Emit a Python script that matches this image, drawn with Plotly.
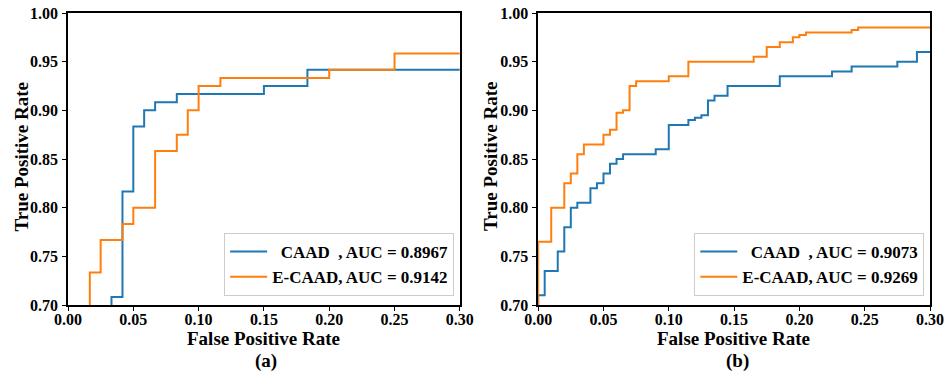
import plotly.graph_objects as go
from plotly.subplots import make_subplots

# ---- data ----
# (a) left panel
a_caad_fpr = [0.0333, 0.0333, 0.0417, 0.05, 0.0583, 0.0667, 0.0833, 0.15, 0.1833, 0.30]
a_caad_tpr = [0.65, 0.7083, 0.8167, 0.8833, 0.90, 0.9083, 0.9167, 0.925, 0.9417, 0.9417]
a_ecaad_fpr = [0.0167, 0.0167, 0.025, 0.0417, 0.05, 0.0667, 0.0833, 0.0917, 0.10, 0.1167, 0.20, 0.25, 0.30]
a_ecaad_tpr = [0.65, 0.7333, 0.7667, 0.7833, 0.80, 0.8583, 0.875, 0.90, 0.925, 0.9333, 0.9417, 0.9583, 0.9583]
# (b) right panel
b_caad_fpr = [0, 0, 0.005, 0.015, 0.02, 0.025, 0.03, 0.04, 0.045, 0.05, 0.055, 0.06, 0.065, 0.09, 0.10,
              0.115, 0.12, 0.125, 0.13, 0.135, 0.145, 0.185, 0.225, 0.24, 0.275, 0.29, 0.30]
b_caad_tpr = [0.65, 0.71, 0.735, 0.755, 0.78, 0.80, 0.805, 0.82, 0.825, 0.835, 0.845, 0.85, 0.855, 0.86, 0.885,
              0.89, 0.8925, 0.895, 0.91, 0.915, 0.925, 0.935, 0.94, 0.945, 0.95, 0.96, 0.96]
b_ecaad_fpr = [0, 0, 0.01, 0.02, 0.025, 0.03, 0.035, 0.05, 0.055, 0.06, 0.065, 0.07, 0.075, 0.10, 0.115,
               0.165, 0.175, 0.185, 0.195, 0.20, 0.205, 0.24, 0.245, 0.30]
b_ecaad_tpr = [0.65, 0.765, 0.80, 0.825, 0.835, 0.855, 0.865, 0.875, 0.88, 0.8975, 0.90, 0.925, 0.93, 0.935, 0.95,
               0.955, 0.965, 0.97, 0.975, 0.9775, 0.98, 0.9825, 0.985, 0.985]

labels_a = ["\u00a0\u00a0CAAD\u00a0\u00a0, AUC = 0.8967", "E-CAAD, AUC = 0.9142"]
labels_b = ["\u00a0\u00a0CAAD\u00a0\u00a0, AUC = 0.9073", "E-CAAD, AUC = 0.9269"]
x_ticks = [0.00, 0.05, 0.10, 0.15, 0.20, 0.25, 0.30]
y_ticks = [0.70, 0.75, 0.80, 0.85, 0.90, 0.95, 1.00]
captions = ["(a)", "(b)"]

BLUE = "#1f77b4"
ORANGE = "#ff7f0e"
SERIF = "Liberation Serif"

W, H = 945, 371
ML, MR, MT, MB = 68.3, 15, 12.7, 66
PW = W - ML - MR
PH = H - MT - MB

fig = make_subplots(rows=1, cols=2, horizontal_spacing=(538.3 - 460) / PW)

fig.add_trace(go.Scatter(x=a_caad_fpr, y=a_caad_tpr, mode="lines", line=dict(color=BLUE, width=2, shape="hv"),
                         name=labels_a[0], legend="legend"), row=1, col=1)
fig.add_trace(go.Scatter(x=a_ecaad_fpr, y=a_ecaad_tpr, mode="lines", line=dict(color=ORANGE, width=2, shape="hv"),
                         name=labels_a[1], legend="legend"), row=1, col=1)
fig.add_trace(go.Scatter(x=b_caad_fpr, y=b_caad_tpr, mode="lines", line=dict(color=BLUE, width=2, shape="hv"),
                         name=labels_b[0], legend="legend2"), row=1, col=2)
fig.add_trace(go.Scatter(x=b_ecaad_fpr, y=b_ecaad_tpr, mode="lines", line=dict(color=ORANGE, width=2, shape="hv"),
                         name=labels_b[1], legend="legend2"), row=1, col=2)

tickfont = dict(family=SERIF, size=16, color="black", weight="bold")
axis_common = dict(showline=True, linecolor="black", linewidth=1.5, mirror=True, showgrid=False,
                   zeroline=False, ticks="outside", ticklen=4, tickwidth=1, tickcolor="black",
                   tickfont=tickfont, tickformat=".2f")
for c in (1, 2):
    fig.update_xaxes(range=[0, 0.30], tickvals=x_ticks, ticklabelstandoff=-5, row=1, col=c, **axis_common)
    fig.update_yaxes(range=[0.70, 1.00], tickvals=y_ticks, ticklabelstandoff=1, row=1, col=c, **axis_common)


def px_x(v):
    return (v - ML) / PW


def px_y(v):
    return (H - MB - v) / PH


legend_common = dict(font=dict(family=SERIF, size=17, color="black", weight="bold"),
                     bgcolor="white", bordercolor="#cccccc", borderwidth=1,
                     xref="paper", yref="paper", xanchor="right", yanchor="bottom",
                     tracegroupgap=0, itemwidth=37)
fig.update_layout(
    legend=dict(x=px_x(454.3), y=px_y(296), **legend_common),
    legend2=dict(x=px_x(924.3), y=px_y(296), **legend_common),
)

title_font = dict(family=SERIF, size=19, color="black", weight="bold")
annots = []
for xc, yt in ((21.7, "True Positive Rate"), (490, "True Positive Rate")):
    annots.append(dict(text=yt, x=px_x(xc), y=px_y(156), xref="paper", yref="paper", showarrow=False,
                       textangle=-90, font=title_font, xanchor="center", yanchor="middle"))
for xc in (264, 734):
    annots.append(dict(text="False Positive Rate", x=px_x(xc), y=px_y(339), xref="paper", yref="paper",
                       showarrow=False, font=title_font, xanchor="center", yanchor="middle"))
for xc, cap in zip((266.5, 737.5), captions):
    annots.append(dict(text=cap, x=px_x(xc), y=px_y(361), xref="paper", yref="paper",
                       showarrow=False, font=title_font, xanchor="center", yanchor="middle"))

fig.update_layout(
    annotations=annots,
    width=W, height=H,
    margin=dict(l=ML, r=MR, t=MT, b=MB, autoexpand=False),
    plot_bgcolor="white", paper_bgcolor="white",
    showlegend=True,
)

fig.write_html("out.html", include_plotlyjs=True, config={"displayModeBar": False})
